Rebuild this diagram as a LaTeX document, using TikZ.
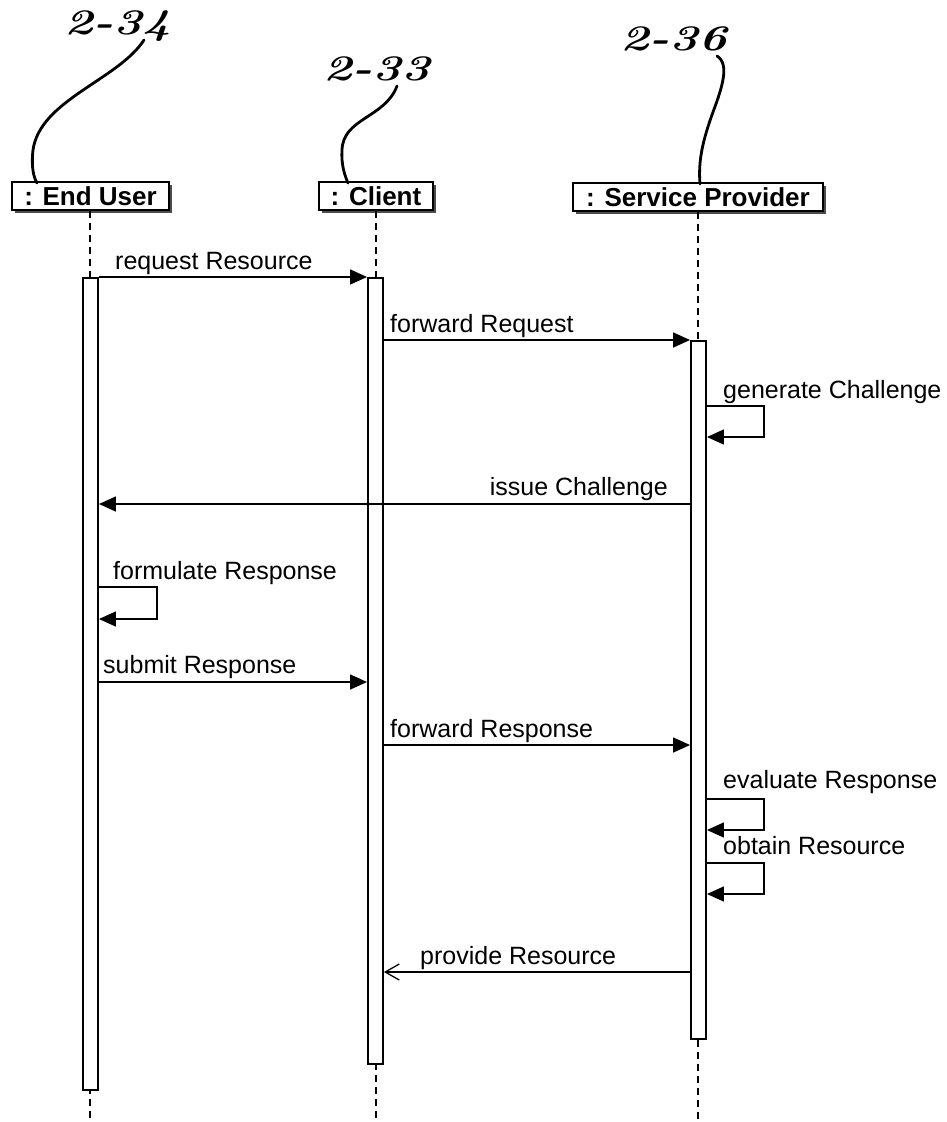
\documentclass[tikz,border=0pt]{standalone}
\usepackage{fontspec}
\setmainfont{Liberation Sans}
\newfontfamily\handfont{Latin Modern Roman}
\usetikzlibrary{arrows.meta,shadows}
\begin{document}
\begin{tikzpicture}[x=1pt,y=-1pt,
  every node/.style={inner sep=0pt},
  head/.style={draw, line width=1.8pt, fill=white, minimum height=28pt,
    font=\fontsize{26}{30}\selectfont\bfseries,
    drop shadow={shadow xshift=3pt, shadow yshift=-3pt, fill=black!70, opacity=1}},
  life/.style={line width=1.5pt, dash pattern=on 7pt off 5pt},
  bar/.style={draw, line width=1.9pt, fill=white, minimum width=15pt, anchor=north},
  msg/.style={line width=1.5pt, -{Triangle[length=17pt,width=15pt]}},
  reply/.style={line width=1.5pt, -{Straight Barb[length=14pt,width=16pt,line width=1.3pt]}},
  lbl/.style={font=\fontsize{25}{30}\selectfont, anchor=base west},
  lblr/.style={font=\fontsize{25}{30}\selectfont, anchor=base east},
  hand/.style={font=\handfont\bfseries\itshape\fontsize{36}{40}\selectfont, xscale=1.35},
  lead/.style={line width=2.8pt, line cap=round}
]
\useasboundingbox (0,0) rectangle (947,1122);

% object heads
\node[head, minimum width=157pt] (eu) at (90.5,196) {: End User};
\node[head, minimum width=114pt] (cl) at (376,196) {: Client};
\node[head, minimum width=250pt] (sp) at (698,197) {: Service Provider};

% reference numerals with leader lines
\node[hand] (h34) at (118,26) {2-34};
\node[hand] (h33) at (377,69) {2-33};
\node[hand] (h36) at (674,39) {2-36};
\coordinate (h34s) at (144,40);
\coordinate (h33s) at (397,86);
\coordinate (h36s) at (717,56);
\coordinate (eut) at (37,183);
\coordinate (clt) at (348,183);
\coordinate (spt) at (700,184);
\draw[lead] (h34s) .. controls (118,80) and (40,100) .. (33,150)
            .. controls (31,168) and (34,178) .. (eut);
\draw[lead] (h33s) .. controls (385,118) and (343,118) .. (342,150)
            .. controls (341,165) and (345,176) .. (clt);
\draw[lead] (h36s) .. controls (730,64) and (722,88) .. (713,112)
            .. controls (703,140) and (698,160) .. (spt);

% lifelines
\draw[life] (eu.south -| 90,0) -- (90,1122);
\draw[life] (cl.south) -- (376,1122);
\draw[life] (sp.south) -- (698,1122);

% activation bars
\node[bar, minimum height=812pt] (euBar) at (90.5,277) {};
\node[bar, minimum height=786pt] (clBar) at (375.5,277) {};
\node[bar, minimum height=698pt] (spBar) at (698.5,340) {};

% message rows
\coordinate (m1) at (0,277);
\coordinate (m2) at (0,340);
\coordinate (s1a) at (0,406);
\coordinate (s1b) at (0,437);
\coordinate (m3) at (0,504);
\coordinate (s2a) at (0,587);
\coordinate (s2b) at (0,619);
\coordinate (m4) at (0,682);
\coordinate (m5) at (0,745);
\coordinate (s3a) at (0,799);
\coordinate (s3b) at (0,830);
\coordinate (s4a) at (0,863);
\coordinate (s4b) at (0,894);
\coordinate (m6) at (0,972);

% messages
\draw[msg] (euBar.east |- m1) -- (clBar.west |- m1);
\node[lbl] at (115,269) {request Resource};

\draw[msg] (clBar.east |- m2) -- (spBar.west |- m2);
\node[lbl] at (390,332) {forward Request};

\draw[msg] (spBar.east |- s1a) -- ++(57,0) |- (spBar.east |- s1b);
\node[lbl] at (723,398) {generate Challenge};

\draw[msg] (spBar.west |- m3) -- (euBar.east |- m3);
\node[lblr] at (668,495) {issue Challenge};

\draw[msg] (euBar.east |- s2a) -- ++(58,0) |- (euBar.east |- s2b);
\node[lbl] at (113,579) {formulate Response};

\draw[msg] (euBar.east |- m4) -- (clBar.west |- m4);
\node[lbl] at (103,673) {submit Response};

\draw[msg] (clBar.east |- m5) -- (spBar.west |- m5);
\node[lbl] at (390,737) {forward Response};

\draw[msg] (spBar.east |- s3a) -- ++(57,0) |- (spBar.east |- s3b);
\node[lbl] at (723,788) {evaluate Response};

\draw[msg] (spBar.east |- s4a) -- ++(57,0) |- (spBar.east |- s4b);
\node[lbl] at (723,854) {obtain Resource};

\draw[reply] (spBar.west |- m6) -- (clBar.east |- m6);
\node[lbl] at (420,964) {provide Resource};
\end{tikzpicture}
\end{document}
